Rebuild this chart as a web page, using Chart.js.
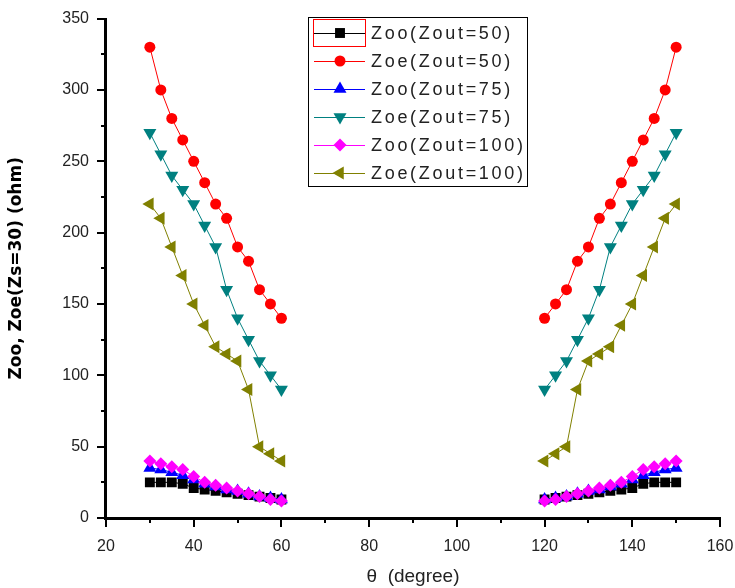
<!DOCTYPE html>
<html>
<head>
<meta charset="utf-8">
<script src="https://cdn.jsdelivr.net/npm/chart.js@4/dist/chart.umd.min.js"></script>
<style>
  html, body { margin: 0; padding: 0; background: #fff; }
  canvas { display: block; }
</style>
</head>
<body>
<canvas id="chart" width="735" height="588"></canvas>
<script>
// theta values (degree)
const thetaLeft = [30, 32.5, 35, 37.5, 40, 42.5, 45, 47.5, 50, 52.5, 55, 57.5, 60];
const thetaRight = [120, 122.5, 125, 127.5, 130, 132.5, 135, 137.5, 140, 142.5, 145, 147.5, 150];

// Zoo / Zoe (ohm), left and right groups
const zoo50Left = [25, 25, 25, 24, 21, 20, 19, 18, 17, 16, 15, 14, 13];
const zoo50Right = [13, 14, 15, 16, 17, 18, 19, 20, 21, 24, 25, 25, 25];
const zoe50Left = [330, 300, 280, 265, 250, 235, 220, 210, 190, 180, 160, 150, 140];
const zoe50Right = [140, 150, 160, 180, 190, 210, 220, 235, 250, 265, 280, 300, 330];
const zoo75Left = [35, 34, 32, 30, 27, 24, 22, 20, 19, 17, 15, 14, 13];
const zoo75Right = [13, 14, 15, 17, 19, 20, 22, 24, 27, 30, 32, 34, 35];
const zoe75Left = [270, 255, 240, 230, 220, 205, 190, 160, 140, 125, 110, 100, 90];
const zoe75Right = [90, 100, 110, 125, 140, 160, 190, 205, 220, 230, 240, 255, 270];
const zoo100Left = [40, 38, 36, 34, 29, 25, 23, 21, 19, 17, 15, 13, 12];
const zoo100Right = [12, 13, 15, 17, 19, 21, 23, 25, 29, 34, 36, 38, 40];
const zoe100Left = [220, 210, 190, 170, 150, 135, 120, 115, 110, 90, 50, 45, 40];
const zoe100Right = [40, 45, 50, 90, 110, 115, 120, 135, 150, 170, 190, 210, 220];

const seriesLabels = ["Zoo(Zout=50)", "Zoe(Zout=50)", "Zoo(Zout=75)", "Zoe(Zout=75)", "Zoo(Zout=100)", "Zoe(Zout=100)"];
const xTicks = [20, 40, 60, 80, 100, 120, 140, 160];
const yTicks = [0, 50, 100, 150, 200, 250, 300, 350];
const xMinorTicks = [30, 50, 70, 90, 110, 130, 150];
const yMinorTicks = [25, 75, 125, 175, 225, 275, 325];

// 두 구간을 null 로 끊어서 하나의 데이터셋으로
function joinPoints(left, right) {
    const pts = thetaLeft.map((t, i) => ({ x: t, y: left[i] }));
    pts.push({ x: 90, y: null });
    thetaRight.forEach((t, i) => pts.push({ x: t, y: right[i] }));
    return pts;
}

const styles = [
    { color: "#000000", pointStyle: "rect", rotation: 0, radius: 7 },
    { color: "#FF0000", pointStyle: "circle", rotation: 0, radius: 5.5 },
    { color: "#0000FF", pointStyle: "triangle", rotation: 0, radius: 7.5 },
    { color: "#008080", pointStyle: "triangle", rotation: 180, radius: 7.5 },
    { color: "#FF00FF", pointStyle: "rectRot", rotation: 0, radius: 6.5 },
    { color: "#808000", pointStyle: "triangle", rotation: 270, radius: 7.5 }
];

const values = [
    [zoo50Left, zoo50Right], [zoe50Left, zoe50Right],
    [zoo75Left, zoo75Right], [zoe75Left, zoe75Right],
    [zoo100Left, zoo100Right], [zoe100Left, zoe100Right]
];

const datasets = values.map((v, i) => ({
    label: seriesLabels[i],
    data: joinPoints(v[0], v[1]),
    borderColor: styles[i].color,
    backgroundColor: styles[i].color,
    borderWidth: 1,
    pointStyle: styles[i].pointStyle,
    rotation: styles[i].rotation,
    pointRadius: styles[i].radius,
    pointBorderWidth: 0,
    spanGaps: false,
    order: 6 - i
}));

// 축선, 눈금
const axisLines = {
    id: "axisLines",
    afterDraw(chart) {
        const ctx = chart.ctx;
        const xs = chart.scales.x, ys = chart.scales.y;
        const x0 = Math.round(xs.getPixelForValue(xTicks[0]));
        const x1 = Math.round(xs.getPixelForValue(xTicks[xTicks.length - 1]));
        const y0 = Math.round(ys.getPixelForValue(yTicks[0]));
        const y1 = Math.round(ys.getPixelForValue(yTicks[yTicks.length - 1]));
        ctx.save();
        ctx.globalCompositeOperation = "source-over";
        ctx.globalAlpha = 1;
        ctx.fillStyle = "#000000";
        ctx.fillRect(x0 - 2, y1 - 1, 3, y0 - y1 + 3);
        ctx.fillRect(x0 - 2, y0 - 1, x1 - x0 + 3, 3);
        xTicks.forEach(v => ctx.fillRect(Math.round(xs.getPixelForValue(v)) - 1, y0, 2, 9));
        xMinorTicks.forEach(v => ctx.fillRect(Math.round(xs.getPixelForValue(v)) - 1, y0, 2, 5));
        yTicks.forEach(v => ctx.fillRect(x0 - 9, Math.round(ys.getPixelForValue(v)) - 1, 9, 2));
        yMinorTicks.forEach(v => ctx.fillRect(x0 - 5, Math.round(ys.getPixelForValue(v)) - 1, 5, 2));
        ctx.restore();
    }
};

// 범례
const legendBox = {
    id: "legendBox",
    afterDraw(chart) {
        const ctx = chart.ctx;
        ctx.save();
        ctx.fillStyle = "#000000";
        ctx.fillRect(308, 17, 220, 1);
        ctx.fillRect(308, 186, 220, 1);
        ctx.fillRect(308, 17, 1, 170);
        ctx.fillRect(527, 17, 1, 170);
        chart.data.datasets.forEach((ds, i) => {
            const y = 33 + i * 28;
            ctx.fillStyle = ds.borderColor;
            ctx.fillRect(314, y, 51, 1);
            Chart.helpers.drawPoint(ctx, {
                pointStyle: ds.pointStyle, rotation: ds.rotation,
                radius: ds.pointRadius, borderWidth: 0
            }, 340, y);
        });
        // red highlight round the first legend symbol
        ctx.fillStyle = "#FF0000";
        ctx.fillRect(313, 19, 53, 1);
        ctx.fillRect(313, 46, 53, 1);
        ctx.fillRect(313, 19, 1, 28);
        ctx.fillRect(365, 19, 1, 28);

        ctx.font = "18px 'Liberation Sans', Arial, sans-serif";
        ctx.letterSpacing = "2.7px";
        ctx.textBaseline = "middle";
        ctx.textAlign = "left";
        ctx.fillStyle = "#222";
        chart.data.datasets.forEach((ds, i) => {
            ctx.fillText(ds.label, 371, 33 + i * 28 + 1);
        });
        ctx.letterSpacing = "0px";
        ctx.restore();
    }
};

const tickFont = { family: "'Liberation Sans', Arial, sans-serif", size: 16 };

new Chart(document.getElementById("chart"), {
    type: "line",
    data: { datasets },
    options: {
        responsive: false,
        animation: false,
        layout: { padding: { left: 0, right: 15, top: 18, bottom: 0 } },
        plugins: { legend: { display: false }, tooltip: { enabled: false } },
        scales: {
            x: {
                type: "linear",
                min: 20, max: 160,
                afterBuildTicks: s => { s.ticks = xTicks.map(v => ({ value: v })); },
                afterFit: s => { s.height = 70; s.paddingLeft = 0; s.paddingRight = 0; },
                ticks: { font: tickFont, color: "#222", padding: 11, maxRotation: 0 },
                grid: { drawOnChartArea: false, tickLength: 8, color: "rgba(0,0,0,0)", tickColor: "rgba(0,0,0,0)" },
                border: { display: false },
                title: {
                    display: true, text: "θ  (degree)", color: "#222",
                    font: { family: "'Liberation Sans', Arial, sans-serif", size: 19 },
                    padding: { top: 4, bottom: 0 }
                }
            },
            y: {
                min: 0, max: 350,
                afterBuildTicks: s => { s.ticks = yTicks.map(v => ({ value: v })); },
                afterFit: s => { s.width = 106; },
                ticks: { font: tickFont, color: "#222", padding: 9 },
                grid: { drawOnChartArea: false, tickLength: 8, color: "rgba(0,0,0,0)", tickColor: "rgba(0,0,0,0)" },
                border: { display: false },
                title: {
                    display: true, text: "Zoo, Zoe(Zs=30) (ohm)", color: "#000",
                    font: { family: "'DejaVu Sans', sans-serif", size: 17, weight: "bold" },
                    padding: { top: 6, bottom: 0 }
                }
            }
        }
    },
    plugins: [axisLines, legendBox]
});
</script>
</body>
</html>
